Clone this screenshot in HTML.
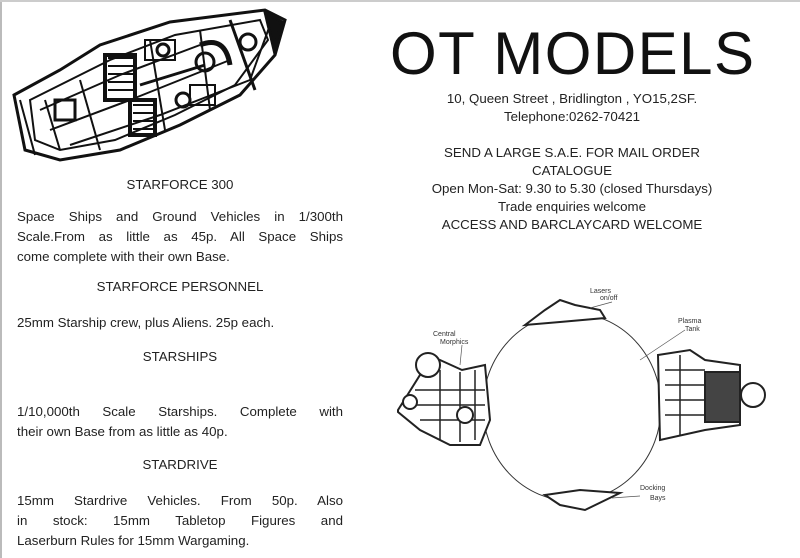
<!DOCTYPE html><html><head><style>
body{margin:0;width:800px;height:558px;background:#fff;position:relative;overflow:hidden;font-family:"Liberation Sans",sans-serif;color:#222}
.t{position:absolute;white-space:nowrap}
.c{text-align:center}
.j{position:absolute;left:17px;width:326px;font-size:13.3px;line-height:20px;text-align:justify;text-align-last:justify}
</style></head><body>
<div style="position:absolute;left:0;top:0;width:2px;height:558px;background:#bbb"></div>
<div style="position:absolute;left:0;top:0;width:800px;height:2px;background:#ccc"></div>
<svg width="800" height="558" style="position:absolute;left:0;top:0">
<g stroke="#111" fill="none" stroke-width="3">
<polygon points="14,95 60,70 100,45 170,22 265,10 285,20 275,55 240,95 180,125 120,150 60,160 25,150" fill="#fff"/>
<polygon points="30,100 70,80 110,60 175,35 260,20 268,40 235,85 175,115 115,140 60,150 35,140" stroke-width="2"/>
<g stroke-width="2">
<path d="M108 58 h25 M108 66 h25 M108 74 h25 M108 82 h25 M108 90 h25"/>
<path d="M133 105 h20 M133 113 h20 M133 121 h20 M133 129 h20"/>
<path d="M40 110 L120 75 L200 45 M50 130 L130 100 L230 60 M70 145 L160 115 L250 80"/>
<path d="M150 40 L165 130 M200 30 L210 110 M80 80 L100 150 M45 100 L60 150"/>
<rect x="145" y="40" width="30" height="20"/><rect x="190" y="85" width="25" height="20"/>
<path d="M20 100 L35 155 M270 25 L250 80"/>
</g>
<rect x="105" y="55" width="30" height="45" stroke-width="4"/><rect x="130" y="100" width="25" height="35" stroke-width="4"/>
<circle cx="248" cy="42" r="8"/><circle cx="183" cy="100" r="7"/><circle cx="163" cy="50" r="6"/><circle cx="205" cy="62" r="9"/>
<rect x="55" y="100" width="20" height="20"/><path d="M140 85 L205 65 M230 20 L255 90"/>
<path d="M200 45 Q225 35 230 65" stroke-width="5"/>
<path d="M265 12 L282 22 L274 50 Z" fill="#111"/>
</g>
<text x="390" y="74" font-family="Liberation Sans" font-size="60" fill="#111" textLength="364" lengthAdjust="spacing">OT MODELS</text>
<ellipse cx="572" cy="407" rx="89" ry="94" fill="none" stroke="#333" stroke-width="1"/>
<g fill="#fff" stroke="#222" stroke-width="2">
<path d="M398 410 L420 375 L440 360 L462 370 L485 365 L490 420 L480 445 L450 445 L420 430 L398 412Z"/>
<path d="M415 390 h70 M410 405 h75 M420 420 h65 M440 370 v70 M460 372 v70 M475 370 v70" stroke-width="1.5"/>
<circle cx="428" cy="365" r="12"/><circle cx="410" cy="402" r="7"/><circle cx="465" cy="415" r="8"/>
<path d="M658 355 L690 350 L705 360 L740 365 L740 425 L705 430 L660 440 Z"/>
<path d="M665 370 h40 M665 385 h40 M665 400 h40 M665 415 h40 M680 355 v80" stroke-width="1.5"/>
<rect x="705" y="372" width="35" height="50" fill="#444"/>
<circle cx="753" cy="395" r="12"/>
<path d="M525 325 L545 310 L560 300 L575 305 L600 310 L605 318 L560 322 Z"/>
<path d="M545 495 L580 490 L620 493 L585 510 L560 505 Z"/>
</g>
<g font-family="Liberation Sans" font-size="7" fill="#333">
<text x="590" y="293">Lasers</text><text x="600" y="300">on/off</text>
<text x="433" y="336">Central</text><text x="440" y="344">Morphics</text>
<text x="678" y="323">Plasma</text><text x="685" y="331">Tank</text>
<text x="640" y="490">Docking</text><text x="650" y="500">Bays</text>
</g>
<g stroke="#555" stroke-width="0.7"><line x1="462" y1="345" x2="460" y2="365"/><line x1="640" y1="360" x2="685" y2="330"/><line x1="612" y1="302" x2="590" y2="308"/><line x1="612" y1="498" x2="640" y2="496"/></g>
</svg>
<div class="t c" style="left:0;width:360px;top:177px;font-size:13.3px">STARFORCE 300</div>
<div class="j" style="top:207px">Space Ships and Ground Vehicles in 1/300th<br>Scale.From as little as 45p. All Space Ships</div>
<div class="t" style="left:17px;top:247px;font-size:13.3px;line-height:20px">come complete with their own Base.</div>
<div class="t c" style="left:0;width:360px;top:279px;font-size:13.3px">STARFORCE PERSONNEL</div>
<div class="t" style="left:17px;top:315px;font-size:13.3px">25mm Starship crew, plus Aliens. 25p each.</div>
<div class="t c" style="left:0;width:360px;top:349px;font-size:13.3px">STARSHIPS</div>
<div class="j" style="top:402px">1/10,000th Scale Starships. Complete with</div>
<div class="t" style="left:17px;top:422px;font-size:13.3px;line-height:20px">their own Base from as little as 40p.</div>
<div class="t c" style="left:0;width:360px;top:457px;font-size:13.3px">STARDRIVE</div>
<div class="j" style="top:491px">15mm Stardrive Vehicles. From 50p. Also<br>in stock: 15mm Tabletop Figures and</div>
<div class="t" style="left:17px;top:531px;font-size:13.3px;line-height:20px">Laserburn Rules for 15mm Wargaming.</div>
<div class="t c" style="left:372px;width:400px;top:90px;font-size:13.3px;line-height:18px">10, Queen Street , Bridlington , YO15,2SF.<br>Telephone:0262-70421</div>
<div class="t c" style="left:372px;width:400px;top:144px;font-size:13.3px;line-height:18px">SEND A LARGE S.A.E. FOR MAIL ORDER<br>CATALOGUE<br>Open Mon-Sat: 9.30 to 5.30 (closed Thursdays)<br>Trade enquiries welcome<br>ACCESS AND BARCLAYCARD WELCOME</div>
</body></html>
